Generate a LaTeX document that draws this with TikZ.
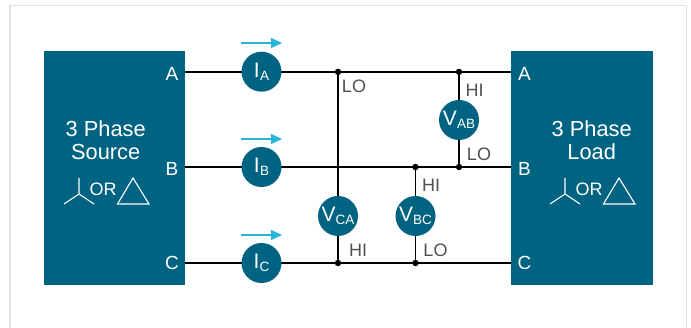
\documentclass[tikz,border=0pt]{standalone}
\usepackage{fontspec}
\setmainfont{Liberation Sans}
\definecolor{teal}{HTML}{006382}
\definecolor{cyanarrow}{HTML}{29B5D9}
\definecolor{graytext}{HTML}{4D5055}
\definecolor{framegray}{HTML}{E2E2E2}
\usetikzlibrary{arrows.meta}
\newcommand{\fs}[1]{\fontsize{#1}{#1}\selectfont}
\newcommand{\meter}[2]{\fs{21}#1\kern0.2pt\raisebox{-3.4pt}{\fs{13.5}#2}}
\tikzset{
  x=1pt,y=-1pt,
  meterc/.style={circle,fill=teal,text=white,minimum size=40pt,inner sep=0pt},
  junct/.style={circle,fill=black,minimum size=6.4pt,inner sep=0pt},
  wire/.style={line width=1.7pt,black},
  flow/.style={cyanarrow,line width=1.5pt,-{Triangle[length=11pt,width=10pt]}},
  port/.style={text=white,font=\fs{19},inner sep=0pt},
  title/.style={text=white,font=\fs{21.8},align=center,inner sep=0pt},
  ortext/.style={text=white,font=\fs{18},inner sep=0pt},
  sym/.style={white,line width=1.1pt,line join=miter},
  hilo/.style={text=graytext,font=\fs{18},inner sep=0pt},
}
\begin{document}
\begin{tikzpicture}
\useasboundingbox (0,0) rectangle (691,328);
\fill[white] (0,0) rectangle (691,328);
\draw[framegray,line width=1.4pt] (9.8,330) -- (9.8,5.8) -- (686.6,5.8) -- (686.6,330);
% blocks
\fill[teal] (44,51) rectangle (185,285);
\fill[teal] (511,51) rectangle (653,285);
% ports
\coordinate (sa) at (185,71.9); \coordinate (sb) at (185,167); \coordinate (sc) at (185,263);
\coordinate (la) at (511,71.9); \coordinate (lb) at (511,167); \coordinate (lc) at (511,263);
% junctions
\node[junct] (j1) at (338,71.9) {};
\node[junct] (j2) at (459,71.9) {};
\node[junct] (j3) at (415.5,167) {};
\node[junct] (j4) at (459,167) {};
\node[junct] (j5) at (338,263) {};
\node[junct] (j6) at (415.5,263) {};
% wires
\draw[wire] (sa) -- (la);
\draw[wire] (sb) -- (lb);
\draw[wire] (sc) -- (lc);
\draw[wire] (j1) -- (j5);
\draw[wire] (j2) -- (j4);
\draw[wire] (j3) -- (j6);
% meters
\node[meterc] (ia) at (261.5,71.7) {\meter{I}{A}};
\node[meterc] (ib) at (261.5,167) {\meter{I}{B}};
\node[meterc] (ic) at (261.5,263) {\meter{I}{C}};
\node[meterc] (vca) at (338,216) {\meter{V}{CA}};
\node[meterc] (vbc) at (415.5,216) {\meter{V}{BC}};
\node[meterc] (vab) at (459,120) {\meter{V}{AB}};
% current arrows
\coordinate (a1) at (241,43); \coordinate (a2) at (282,43);
\coordinate (b1) at (241,139); \coordinate (b2) at (282,139);
\coordinate (c1) at (241,235); \coordinate (c2) at (282,235);
\draw[flow] (a1) -- (a2);
\draw[flow] (b1) -- (b2);
\draw[flow] (c1) -- (c2);
% port labels
\node[port] (pa) at (172,74) {A};
\node[port] (pb) at (172,169) {B};
\node[port] (pc) at (172,263) {C};
\node[port] (qa) at (524.5,74) {A};
\node[port] (qb) at (524.5,169) {B};
\node[port] (qc) at (524.5,263) {C};
% titles
\node[title] (t1) at (105.7,129) {3 Phase};
\node[title] (t2) at (105.7,152) {Source};
\node[title] (t3) at (591.7,129) {3 Phase};
\node[title] (t4) at (591.7,152) {Load};
% symbols
\node[ortext] (o1) at (103,189) {OR};
\node[ortext] (o2) at (589,189) {OR};
\draw[sym] (79,178) -- (79,194) (64,204) -- (79,194) -- (94,204);
\draw[sym] (117.5,204) -- (149,204) -- (133,178) -- cycle;
\draw[sym] (565,178) -- (565,194) (550,204) -- (565,194) -- (580,204);
\draw[sym] (603.5,204) -- (635,204) -- (619,178) -- cycle;
% HI/LO
\node[hilo] (l1) at (354,86) {LO};
\node[hilo] (l2) at (474.5,90) {HI};
\node[hilo] (l3) at (479,154) {LO};
\node[hilo] (l4) at (431,185) {HI};
\node[hilo] (l5) at (358,250) {HI};
\node[hilo] (l6) at (435.5,250) {LO};
\end{tikzpicture}
\end{document}
